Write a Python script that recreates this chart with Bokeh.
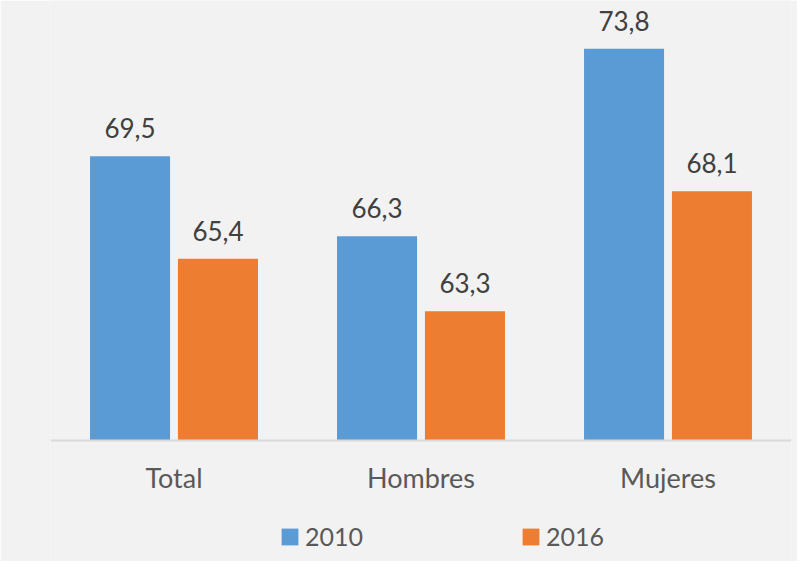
from bokeh.plotting import figure
from bokeh.models import ColumnDataSource, FactorRange, Legend, LegendItem
from bokeh.transform import dodge
from bokeh.core.properties import value
from bokeh.embed import file_html
from bokeh.resources import INLINE

categories = ["Total", "Hombres", "Mujeres"]
years = ["2010", "2016"]
values_2010 = [69.5, 66.3, 73.8]
values_2016 = [65.4, 63.3, 68.1]
labels_2010 = ["69,5", "66,3", "73,8"]
labels_2016 = ["65,4", "63,3", "68,1"]

BASE = 58.15
Y_START = 53.29
Y_END = 75.73

src = ColumnDataSource(dict(cat=categories, v2010=values_2010, v2016=values_2016,
                            l2010=labels_2010, l2016=labels_2016))

p = figure(x_range=FactorRange(*categories), y_range=(Y_START, Y_END),
           width=797, height=561, output_backend="svg", toolbar_location=None,
           min_border_left=50, min_border_right=6, min_border_top=0, min_border_bottom=0)
p.background_fill_color = "#F2F2F2"
p.border_fill_color = "#F2F2F2"
p.outline_line_color = None
p.grid.grid_line_color = None
p.yaxis.visible = False

FONT = "Lato"
r1 = p.vbar(x=dodge("cat", -0.178, range=p.x_range), top="v2010", bottom=BASE, width=0.324,
            source=src, fill_color="#5B9BD5", line_color=None)
r2 = p.vbar(x=dodge("cat", 0.178, range=p.x_range), top="v2016", bottom=BASE, width=0.324,
            source=src, fill_color="#ED7D31", line_color=None)

for col, lab, off in (("v2010", "l2010", -0.178), ("v2016", "l2016", 0.178)):
    p.text(x=dodge("cat", off, range=p.x_range), y=col, text=lab, source=src,
           text_align="center", text_baseline="middle", y_offset=-28,
           text_font=value(FONT), text_font_size="26px", text_color="#404040")

ax = p.xaxis[0]
ax.fixed_location = BASE
ax.axis_line_color = "#D9D9D9"
ax.axis_line_width = 2
ax.major_tick_line_color = None
ax.minor_tick_line_color = None
ax.major_label_text_font = FONT
ax.major_label_text_font_size = "27px"
ax.major_label_text_color = "#595959"
ax.major_label_standoff = 15

legend = Legend(items=[LegendItem(label=years[0], renderers=[r1]),
                       LegendItem(label=years[1], renderers=[r2])],
                orientation="horizontal", location=(229, 10),
                glyph_width=21, glyph_height=21, label_standoff=5, label_width=215,
                label_height=21, spacing=0, padding=0, margin=0,
                border_line_color=None, background_fill_alpha=0,
                label_text_font=FONT, label_text_font_size="25px",
                label_text_color="#595959", label_text_baseline="middle")
p.add_layout(legend, "center")

open("out.html", "w").write(file_html(p, INLINE))
